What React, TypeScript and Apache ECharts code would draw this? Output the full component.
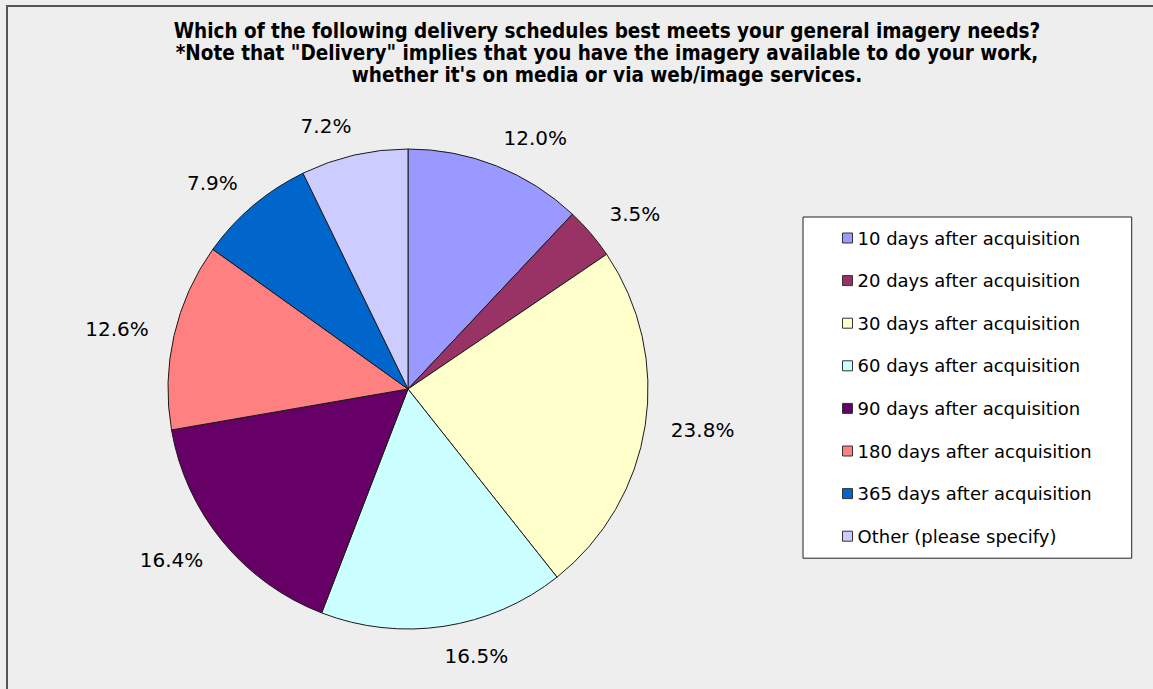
import React, { useEffect, useRef } from "react";
import * as echarts from "echarts";

const categories = [
  "10 days after acquisition",
  "20 days after acquisition",
  "30 days after acquisition",
  "60 days after acquisition",
  "90 days after acquisition",
  "180 days after acquisition",
  "365 days after acquisition",
  "Other (please specify)",
];
const values = [12.0, 3.5, 23.8, 16.5, 16.4, 12.6, 7.9, 7.2];
const colors = ["#9999FF", "#993366", "#FFFFCC", "#CCFFFF", "#660066", "#FF8080", "#0066CC", "#CCCCFF"];
const titleLines = [
  "Which of the following delivery schedules best meets your general imagery needs?",
  '*Note that "Delivery" implies that you have the imagery available to do your work,',
  "whether it's on media or via web/image services.",
];

export default function App() {
  const ref = useRef<HTMLDivElement>(null);
  useEffect(() => {
    document.body.style.margin = "0";
    const chart = echarts.init(ref.current!, null, { renderer: "svg" });
    chart.setOption({
      animation: false,
      backgroundColor: "#EEEEEE",
      graphic: [
        {
          type: "rect",
          shape: { x: 7, y: 6, width: 1300, height: 900 },
          style: { fill: "none", stroke: "#555555", lineWidth: 2 },
          silent: true,
        },
        ...titleLines.map((t, i) => ({
          type: "text",
          x: 607,
          y: 31 + i * 22,
          style: {
            text: t,
            align: "center",
            textAlign: "center",
            verticalAlign: "middle",
            textVerticalAlign: "middle",
            font: "bold 20.5px 'DejaVu Sans Condensed', 'DejaVu Sans', sans-serif",
            fill: "#000",
          },
        })),
      ],
      legend: {
        orient: "vertical",
        left: 803,
        top: 217,
        padding: [11, 40, 12, 39],
        itemGap: 22.6,
        itemWidth: 10,
        itemHeight: 10,
        icon: "rect",
        backgroundColor: "#FFFFFF",
        borderColor: "#222222",
        borderWidth: 1,
        itemStyle: { borderColor: "#333", borderWidth: 1 },
        textStyle: { fontFamily: "DejaVu Sans", fontSize: 18, color: "#000", lineHeight: 20 },
        data: categories,
      },
      series: [
        {
          type: "pie",
          center: [408, 389],
          radius: 240,
          startAngle: 90,
          clockwise: true,
          avoidLabelOverlap: false,
          color: colors,
          itemStyle: { borderColor: "#1a1a1a", borderWidth: 1 },
          label: {
            show: true,
            position: "outside",
            distanceToLabelLine: -4,
            fontFamily: "DejaVu Sans",
            fontSize: 20,
            color: "#000",
            formatter: (p: any) => Number(p.value).toFixed(1) + "%",
          },
          labelLine: { show: false, length: 30, length2: 0 },
          emphasis: { disabled: true },
          data: categories.map((name, i) => ({ name, value: values[i] })),
        },
      ],
    });
    return () => chart.dispose();
  }, []);
  return <div ref={ref} style={{ width: 1153, height: 689 }} />;
}
